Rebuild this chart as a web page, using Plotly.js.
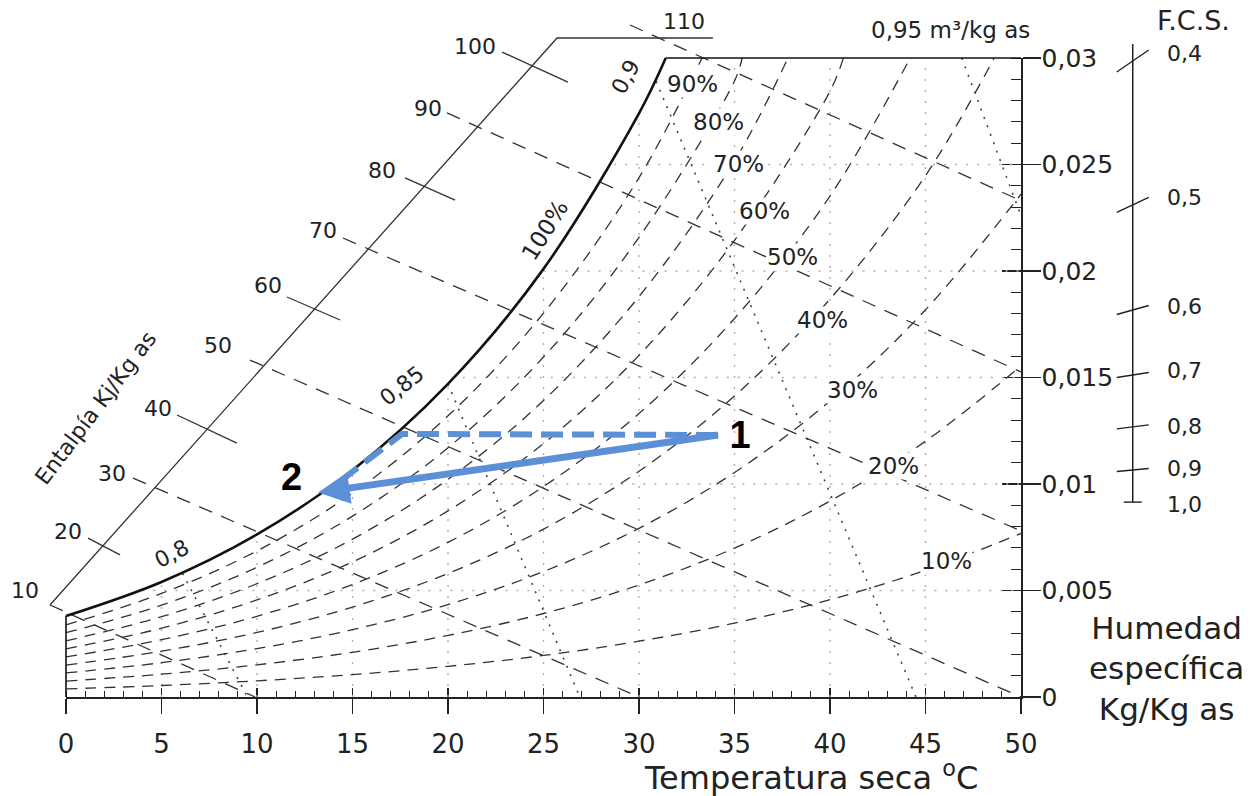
<!DOCTYPE html>
<html><head><meta charset="utf-8">
<script src="https://cdn.plot.ly/plotly-3.0.1.min.js"></script>
<style>html,body{margin:0;padding:0;background:#fff}#chart{width:1260px;height:796px}</style>
</head><body><div id="chart"></div>
<script>
// ================= DATA =================
const tempTicks = [0,5,10,15,20,25,30,35,40,45,50];
const tempTickLabels = ['0','5','10','15','20','25','30','35','40','45','50'];
const humTicks = [0,0.005,0.01,0.015,0.02,0.025,0.03];
const humTickLabels = ['0','0,005','0,01','0,015','0,02','0,025','0,03'];

// relative humidity curves: humidity (kg/kg) at curveT, last point = where the curve meets the top border
const curveT = [0,5,10,15,20,25,30,35,40,45,50];
const rh100 = [0.00380,0.00540,0.00763,0.01065,0.01470,0.02010,0.02740];
const rh90  = [0.00339,0.00486,0.00686,0.00957,0.01320,0.01802,0.02438];
const rh80  = [0.00302,0.00431,0.00609,0.00849,0.01170,0.01596,0.02158,0.02892];
const rh70  = [0.00264,0.00377,0.00532,0.00741,0.01022,0.01392,0.01880,0.02516];
const rh60  = [0.00226,0.00323,0.00456,0.00634,0.00874,0.01190,0.01604,0.02144,0.02844];
const rh50  = [0.00188,0.00269,0.00379,0.00528,0.00726,0.00988,0.01331,0.01777,0.02352];
const rh40  = [0.00150,0.00215,0.00303,0.00422,0.00580,0.00788,0.01060,0.01413,0.01868,0.02448];
const rh30  = [0.00113,0.00161,0.00227,0.00316,0.00434,0.00589,0.00792,0.01054,0.01390,0.01818,0.02361];
const rh20  = [0.00075,0.00107,0.00151,0.00210,0.00289,0.00392,0.00526,0.00699,0.00920,0.01201,0.01554];
const rh10  = [0.00038,0.00054,0.00076,0.00105,0.00144,0.00195,0.00262,0.00347,0.00457,0.00595,0.00768];
const rhCurves = [rh100,rh90,rh80,rh70,rh60,rh50,rh40,rh30,rh20,rh10];
const rhTopT = [31.4,33.3,35.4,37.8,40.7,44.2,48.6,null,null,null];
const rhLabels = ['100%','90%','80%','70%','60%','50%','40%','30%','20%','10%'];

// enthalpy lines (kJ/kg): start / end points
const enthalpyValues = [10,20,30,40,50,60,70,80,90,100,110];
const enthStartT = [-0.84, 1.15, 3.51, 5.81, 9.63,11.57,14.50,17.75,19.95,22.83,29.53];
const enthStartW = [0.00432,0.00746,0.01028,0.01324,0.01582,0.01878,0.02155,0.02437,0.02742,0.03028,0.03155];
const enthEndT   = [ 9.90, 2.83,30.00, 8.95,50.00,14.35,50.00,20.37,50.00,26.28,50.00];
const enthEndW   = [0,0.00667,0,0.01192,0,0.01770,0.00780,0.02333,0.01526,0.02887,0.02330];
// enthalpy scale line (diagonal + top step)
const enthScaleT = [-0.84,25.71,33.87];
const enthScaleW = [0.00432,0.03094,0.03094];

// specific volume lines (m3/kg)
const volumeLabels = ['0,8','0,85','0,9','0,95'];
const volStartT = [6.1,20.0,30.9,46.9];
const volStartW = [0.0058,0.0147,0.0289,0.0300];
const volEndT   = [9.5,26.9,44.5,50.0];
const volEndW   = [0,0,0,0.0226];

// dotted grid, limited by the saturation curve
const gridT    = [5,10,15,20,25,30,35,40,45];
const gridTopW = [0.0054,0.00763,0.01065,0.0147,0.0201,0.0274,0.03,0.03,0.03];
const gridW    = [0.005,0.01,0.015,0.02,0.025];
const gridDewT = [4.0,14.1,20.2,25.0,28.7];

// F.C.S. scale
const fcsLabels = ['0,4','0,5','0,6','0,7','0,8','0,9','1,0'];
const fcsW = [0.02986,0.02310,0.01817,0.01512,0.01268,0.01066,0.00915];

// process 1 -> 2
const procT = [34.14,13.2];
const procW = [0.0123,0.0096];
const dashT = [34.14,17.6,14.6];
const dashW = [0.0123,0.01235,0.0103];
const procLabels = ['1','2'];

// ================= LAYOUT / DRAWING =================
const W = 1260, H = 796;
const PL = 66, PR = 1021, PT = 58, PB = 697;   // plot box in pixels
const xPerPx = 50/(PR-PL), yPerPx = 0.03/(PB-PT);
const x2range = [-PL*xPerPx, 50 + (W-PR)*xPerPx];
const y2range = [-(H-PB)*yPerPx, 0.03 + PT*yPerPx];

const ink = '#222';
const traces = [];
function add(x,y,line,extra){
  traces.push(Object.assign({x:x,y:y,xaxis:'x2',yaxis:'y2',mode:'lines',hoverinfo:'skip',showlegend:false,line:line},extra||{}));
}
// grid
const gridStyle = {color:'#c9a2b0',width:1.4,dash:'2px,9px'};
gridT.forEach((t,i)=>add([t,t],[0,gridTopW[i]],gridStyle));
gridW.forEach((w,i)=>add([gridDewT[i],50],[w,w],gridStyle));
// volume lines
volStartT.forEach((t,i)=>add([t,volEndT[i]],[volStartW[i],volEndW[i]],{color:'#444',width:1.6,dash:'2px,7px'}));
// enthalpy lines
enthalpyValues.forEach((h,i)=>{
  const odd = (h/10)%2===1;
  add([enthStartT[i],enthEndT[i]],[enthStartW[i],enthEndW[i]],
      odd?{color:'#333',width:1.3,dash:'14px,10px'}:{color:'#333',width:1.3});
});
add(enthScaleT,enthScaleW,{color:'#333',width:1.3});
// RH curves
rhCurves.forEach((arr,i)=>{
  const x = curveT.slice(0,arr.length), y = arr.slice();
  if (rhTopT[i]!==null){ x.push(rhTopT[i]); y.push(0.03); }
  if (i===0) add(x,y,{color:'#111',width:2.6,shape:'spline'});
  else add(x,y,{color:'#333',width:1.3,dash:'11px,8px',shape:'spline'});
});
// borders: left piece and top piece
add([0,0],[0,rh100[0]],{color:'#111',width:1.6});
add([rhTopT[0],50],[0.03,0.03],{color:'#111',width:1.6});
// F.C.S. scale
const fcsX = 55.85;
add([fcsX,fcsX],[0.03066,fcsW[fcsW.length-1]],{color:'#222',width:1.5});
const fcsTilt = [11,7.5,4.5,2.5,2,1.5,0];
fcsW.forEach((w,i)=>{
  const hx = (i===fcsW.length-1?9:16)*xPerPx, hy = fcsTilt[i]*yPerPx;
  add([fcsX-hx,fcsX+hx],[w-hy,w+hy],{color:'#222',width:1.4});
});
// blue process (dashed path)
const blue = '#5b8fd6';
add(dashT,dashW,{color:blue,width:6,dash:'22px,9px'});

// invisible anchors for main axes
traces.push({x:[25],y:[0.015],xaxis:'x',yaxis:'y',mode:'markers',marker:{opacity:0,size:1},hoverinfo:'skip',showlegend:false});
traces.push({x:[25],y:[0.015],xaxis:'x3',yaxis:'y',mode:'markers',marker:{opacity:0,size:1},hoverinfo:'skip',showlegend:false});
traces.push({x:[25],y:[0.015],xaxis:'x',yaxis:'y3',mode:'markers',marker:{opacity:0,size:1},hoverinfo:'skip',showlegend:false});

// annotations
const ann = [];
function lab(text,px,py,size,opt){
  ann.push(Object.assign({text:text,x:px/W,y:1-py/H,xref:'paper',yref:'paper',showarrow:false,
    xanchor:'center',yanchor:'middle',font:{size:size,color:ink,family:'DejaVu Sans'}},opt||{}));
}
// enthalpy labels
const enthLabPos = [[25,590],[68,531],[112,473],[158,408],[218,345],[268,285],[323,231],[382,171],[428,108],[475,47],[684,22]];
enthalpyValues.forEach((h,i)=>lab(String(h),enthLabPos[i][0],enthLabPos[i][1],22));
lab('Entalpía Kj/Kg as',95,408,22,{textangle:-53});
// RH labels
const rhLabPos = [[545,230],[692,84],[718,122],[738,164],[765,211],[792,257],[822,320],[852,390],[893,466],[946,561]];
rhLabels.forEach((s,i)=>{
  if(i===0) lab(s,rhLabPos[i][0],rhLabPos[i][1],23,{textangle:-58});
  else lab(s,rhLabPos[i][0],rhLabPos[i][1],23,{bgcolor:'#fff',borderpad:0});
});
// volume labels
lab(volumeLabels[0],172,553,22,{textangle:-28});
lab(volumeLabels[1],402,385,22,{textangle:-38});
lab(volumeLabels[2],625,77,22,{textangle:-62});
lab(volumeLabels[3]+' m³/kg as',950,30,23);
// FCS
lab('F.C.S.',1193,20,27,{borderpad:0});
const fcsLabY = [53,197,306,371,426,468,504];
fcsLabels.forEach((s,i)=>lab(s,1184,fcsLabY[i],22,{borderpad:0}));
// axis titles
lab('Humedad<br>específica<br>Kg/Kg as',1166,668,31);
lab('Temperatura seca <sup>o</sup>C',811,776,32);
// process arrow 1 -> 2, with the label "1" at its tail
ann.push({x:procT[1],y:procW[1],xref:'x2',yref:'y2',ax:procT[0],ay:procW[0],axref:'x2',ayref:'y2',
  showarrow:true,arrowhead:2,arrowsize:0.9,arrowwidth:7,arrowcolor:blue,standoff:0,
  text:'&nbsp;<b>'+procLabels[0]+'</b>',xanchor:'left',yanchor:'middle',borderpad:0,
  font:{size:38,color:'#000',family:'Liberation Sans'}});
lab('<b>'+procLabels[1]+'</b>',291,477,38,{font:{size:38,color:'#000',family:'Liberation Sans'}});

const layout = {
  width:W,height:H,margin:{l:0,r:0,t:0,b:0},paper_bgcolor:'#fff',plot_bgcolor:'rgba(0,0,0,0)',
  showlegend:false,font:{family:'DejaVu Sans',color:ink},
  xaxis:{domain:[PL/W,PR/W],range:[0,50],anchor:'y',tickmode:'array',tickvals:tempTicks,ticktext:tempTickLabels,
    ticks:'outside',ticklen:15,tickwidth:1.5,tickcolor:ink,showline:true,linewidth:2,linecolor:ink,ticklabelstandoff:8,
    showgrid:false,zeroline:false,tickfont:{size:26,color:ink},fixedrange:true,
    minor:{dtick:1,tick0:0,ticks:'inside',ticklen:6,tickwidth:1,tickcolor:ink,showgrid:false}},
  yaxis:{domain:[1-PB/H,1-PT/H],range:[0,0.03],anchor:'x',side:'right',tickmode:'array',tickvals:humTicks,ticktext:humTickLabels,
    ticks:'outside',ticklen:18,tickwidth:1.5,tickcolor:ink,showline:true,linewidth:1.6,linecolor:ink,ticklabelstandoff:-4,
    showgrid:false,zeroline:false,tickfont:{size:25,color:ink},fixedrange:true,
    minor:{dtick:0.001,tick0:0,ticks:'inside',ticklen:10,tickwidth:1,tickcolor:ink,showgrid:false}},
  xaxis3:{overlaying:'x',anchor:'y',range:[0,50],tickmode:'array',tickvals:tempTicks,ticks:'inside',ticklen:9,tickwidth:1.5,
    tickcolor:ink,showticklabels:false,showline:false,showgrid:false,zeroline:false,fixedrange:true},
  yaxis3:{overlaying:'y',anchor:'x',side:'right',range:[0,0.03],tickmode:'array',tickvals:humTicks.slice(1,-1),ticks:'inside',
    ticklen:19,tickwidth:1.5,tickcolor:ink,showticklabels:false,showline:false,showgrid:false,zeroline:false,fixedrange:true},
  xaxis2:{domain:[0,1],range:x2range,anchor:'y2',visible:false,fixedrange:true},
  yaxis2:{domain:[0,1],range:y2range,anchor:'x2',visible:false,fixedrange:true},
  annotations:ann
};
Plotly.newPlot('chart',traces,layout,{staticPlot:true});
</script></body></html>
